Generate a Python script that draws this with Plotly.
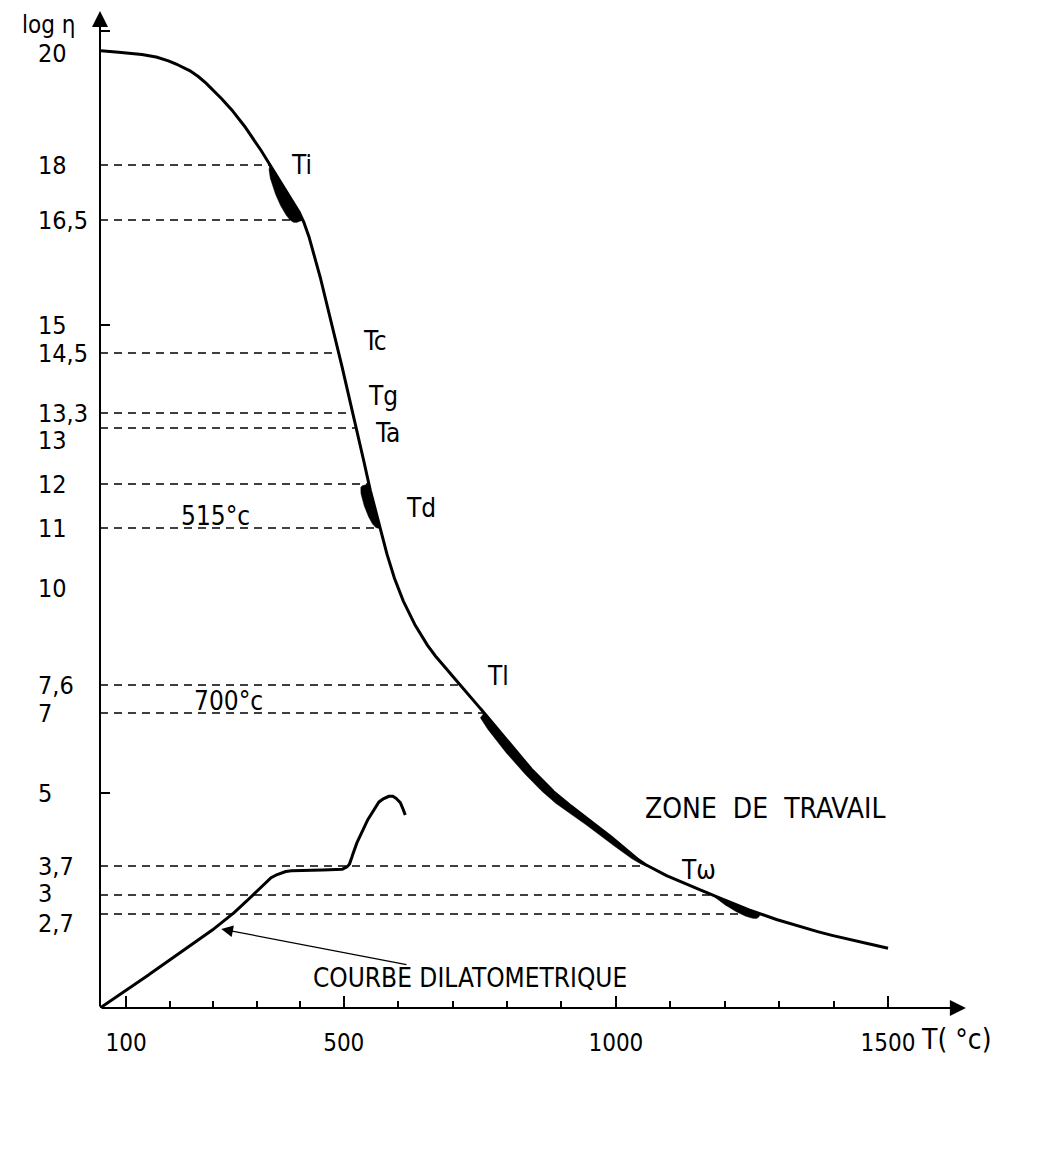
import numpy as np
import plotly.graph_objects as go

# ---------------- data ----------------
# schematic log(eta) axis : value, printed label, drawn height (axis units 0-100)
ETA_LEVELS = [20, 18, 16.5, 15, 14.5, 13.3, 13, 12, 11, 10, 7.6, 7, 5, 3.7, 3, 2.7]
ETA_LABELS = ["20", "18", "16,5", "15", "14,5", "13,3", "13", "12", "11", "10",
              "7,6", "7", "5", "3,7", "3", "2,7"]
ETA_HEIGHT = [95.5, 84.3, 78.8, 68.3, 65.5, 59.5, 58.0, 52.4, 48.0, 42.0,
              32.3, 29.5, 21.5, 14.2, 11.3, 9.4]
DASHED_ETA = [18, 16.5, 14.5, 13.3, 13, 12, 11, 7.6, 7, 3.7, 3, 2.7]
TICK_MARK_ETA = [20.4, 15, 5]

# temperature axis
X_TICK_AT = [100, 500, 1000, 1500]
X_TICK_LABELS = ["100", "500", "1000", "1500"]
X_MINOR = [180, 260, 340, 420, 600, 700, 800, 900, 1100, 1200, 1300, 1400]

# viscosity curve  (T, log eta)
VISC_T = [54, 140, 214, 278, 324, 365, 403, 425, 445, 464, 479, 491, 517, 524, 546,
          567, 587, 611, 651, 714, 758, 829, 888, 967, 1059, 1178, 1265, 1380, 1500]
VISC_ETA = [20.04, 19.96, 19.70, 19.16, 18.61, 18.0, 17.10, 16.5, 16.03, 15.46, 15.0,
            14.5, 13.3, 13.0, 12.0, 11.0, 10.33, 9.63, 8.64, 7.6, 7.0, 5.83, 5.0, 4.41,
            3.7, 3.0, 2.7, 2.40, 2.16]

# dilatometric curve (T, drawn height)
DIL_T = [52.2, 300, 339, 372, 400, 453, 490, 508, 521, 545, 569, 587, 603, 613]
DIL_H = [0, 9.6, 11.6, 13.2, 13.7, 13.8, 13.8, 14.2, 16.1, 18.9, 20.8, 21.2, 20.6, 19.3]

# thick (highlighted) ranges of the viscosity curve: (eta from, eta to)
THICK_RANGES = [(18, 16.5), (12, 11), (7, 3.7), (3, 2.7)]

CURVE_LABELS = [("Ti", 423, 84.3), ("Tc", 557, 66.7), ("Tg", 572, 61.2),
                ("Ta", 581, 57.5), ("Td", 642, 50.0), ("Tl", 783, 33.2),
                ("Tω", 1151, 13.8)]

# ---------------- geometry ----------------
X0, X1 = 52.2, 1720.4
W, H = 1059, 1150
ML, MR, MT, MB = 92, 59, 0, 150
PW, PH = W - ML - MR, H - MT - MB
SX = PW / (X1 - X0)
SY = PH / 100.0
FONT = "Liberation Sans Narrow, DejaVu Sans Condensed, Roboto Condensed, Liberation Sans, sans-serif"


def pchip(x, y, xs):
    x = np.asarray(x, float); y = np.asarray(y, float); xs = np.asarray(xs, float)
    h = np.diff(x); d = np.diff(y) / h
    n = len(x); m = np.zeros(n)
    for k in range(1, n - 1):
        if d[k - 1] * d[k] > 0:
            w1 = 2 * h[k] + h[k - 1]; w2 = h[k] + 2 * h[k - 1]
            m[k] = (w1 + w2) / (w1 / d[k - 1] + w2 / d[k])
    m[0] = d[0]; m[-1] = d[-1]
    i = np.clip(np.searchsorted(x, xs) - 1, 0, n - 2)
    t = (xs - x[i]) / h[i]
    return ((2 * t**3 - 3 * t**2 + 1) * y[i] + (t**3 - 2 * t**2 + t) * h[i] * m[i]
            + (-2 * t**3 + 3 * t**2) * y[i + 1] + (t**3 - t**2) * h[i] * m[i + 1])


def eta_to_h(e):
    lv = np.array(ETA_LEVELS[::-1], float); hv = np.array(ETA_HEIGHT[::-1], float)
    e = np.atleast_1d(np.asarray(e, float))
    out = np.interp(e, lv, hv)
    lo = e < lv[0]; hi = e > lv[-1]
    out[lo] = hv[0] + (e[lo] - lv[0]) * (hv[1] - hv[0]) / (lv[1] - lv[0])
    out[hi] = hv[-1] + (e[hi] - lv[-1]) * (hv[-1] - hv[-2]) / (lv[-1] - lv[-2])
    return out


curve_h = eta_to_h(VISC_ETA)
T_dense = np.linspace(VISC_T[0], VISC_T[-1], 5000)
H_dense = pchip(VISC_T, curve_h, T_dense)


def T_at_height(h):
    return float(np.interp(h, H_dense[::-1], T_dense[::-1]))


fig = go.Figure()

# dashed reference lines
xs, ys = [], []
for lv in DASHED_ETA:
    hh = float(eta_to_h(lv)[0])
    xs += [X0, T_at_height(hh), None]
    ys += [hh, hh, None]
fig.add_trace(go.Scatter(x=xs, y=ys, mode="lines", hoverinfo="skip",
                         line=dict(color="black", width=1.6, dash="8px,6px")))

# thick wedges (max thickness in px, profile exponents)
WEDGE_STYLE = [(13, 0.6, 0.2), (10, 0.12, 0.35), (8, 0.12, 0.5), (7, 0.8, 0.25)]
for (ea, eb), (tmax, a, b) in zip(THICK_RANGES, WEDGE_STYLE):
    ha, hb = eta_to_h([ea, eb])
    T = np.linspace(T_at_height(ha), T_at_height(hb), 240)
    Hc = pchip(VISC_T, curve_h, T)
    X, Y = T * SX, Hc * SY
    dX, dY = np.gradient(X), np.gradient(Y)
    nr = np.hypot(dX, dY)
    nx, ny = dY / nr, -dX / nr
    s = np.linspace(0, 1, 240)
    prof = s**a * (1 - s)**b
    prof = prof / prof.max() * tmax
    px = np.concatenate([X, (X + nx * prof)[::-1]]) / SX
    py = np.concatenate([Y, (Y + ny * prof)[::-1]]) / SY
    fig.add_trace(go.Scatter(x=px, y=py, mode="lines", fill="toself", fillcolor="black",
                             line=dict(color="black", width=0.5), hoverinfo="skip"))

# viscosity curve
fig.add_trace(go.Scatter(x=T_dense, y=H_dense, mode="lines", hoverinfo="skip",
                         line=dict(color="black", width=3)))

# dilatometric curve
Td_dense = np.linspace(DIL_T[0], DIL_T[-1], 1500)
fig.add_trace(go.Scatter(x=Td_dense, y=pchip(DIL_T, DIL_H, Td_dense), mode="lines",
                         hoverinfo="skip", line=dict(color="black", width=3)))

ann = []
# axes with arrows
ann.append(dict(x=X0, y=99.7, ax=X0, ay=0, xref="x", yref="y", axref="x", ayref="y",
                text="", showarrow=True, arrowhead=2, arrowsize=1.6, arrowwidth=2,
                arrowcolor="black"))
ann.append(dict(x=1643, y=0, ax=X0, ay=0, xref="x", yref="y", axref="x", ayref="y",
                text="", showarrow=True, arrowhead=2, arrowsize=1.6, arrowwidth=2,
                arrowcolor="black"))

# y labels (left aligned)
LABEL_SHIFT = {13: -12, 3: 2, 2.7: -9}
for lv, lab in zip(ETA_LEVELS, ETA_LABELS):
    ann.append(dict(x=(28 - ML) / PW, y=float(eta_to_h(lv)[0]), xref="paper", yref="y",
                    text=lab, showarrow=False, xanchor="left", yanchor="middle",
                    yshift=LABEL_SHIFT.get(lv, 0),
                    font=dict(family=FONT, size=25, color="black")))
ann.append(dict(x=(12 - ML) / PW, y=98.3, xref="paper", yref="y", text="log η",
                showarrow=False, xanchor="left", yanchor="middle",
                font=dict(family=FONT, size=24, color="black")))

for txt, tx, ty in CURVE_LABELS:
    ann.append(dict(x=tx, y=ty, xref="x", yref="y", text=txt, showarrow=False,
                    font=dict(family=FONT, size=26, color="black")))

ann.append(dict(x=265, y=float(eta_to_h(11)[0]), xref="x", yref="y", text="515°c",
                showarrow=False, yanchor="bottom", yshift=-5,
                font=dict(family=FONT, size=26, color="black")))
ann.append(dict(x=289, y=float(eta_to_h(7)[0]), xref="x", yref="y", text="700°c",
                showarrow=False, yanchor="bottom", yshift=-5,
                font=dict(family=FONT, size=26, color="black")))
ann.append(dict(x=1274, y=20.0, xref="x", yref="y", text="ZONE  DE  TRAVAIL",
                showarrow=False, font=dict(family=FONT, size=28, color="black")))
ann.append(dict(x=732, y=3.0, xref="x", yref="y", text="COURBE DILATOMETRIQUE",
                showarrow=False, font=dict(family=FONT, size=26, color="black")))
ann.append(dict(x=275, y=7.9, ax=618, ay=4.3, xref="x", yref="y", axref="x", ayref="y",
                text="", showarrow=True, arrowhead=2, arrowsize=1.8, arrowwidth=1.3,
                arrowcolor="black"))
ann.append(dict(x=(985 - ML) / PW, y=-0.05, xref="paper", yref="paper",
                text="T( °c)", showarrow=False,
                font=dict(family=FONT, size=28, color="black")))

fig.update_layout(
    width=W, height=H, margin=dict(l=ML, r=MR, t=MT, b=MB),
    paper_bgcolor="white", plot_bgcolor="white", showlegend=False,
    annotations=ann,
    xaxis=dict(range=[X0, X1], showgrid=False, zeroline=False, showline=False,
               tickmode="array", tickvals=X_TICK_AT, ticktext=X_TICK_LABELS,
               ticks="inside", ticklen=12, tickwidth=2, tickcolor="black",
               ticklabelstandoff=18,
               tickfont=dict(family=FONT, size=24, color="black"),
               minor=dict(tickmode="array", tickvals=X_MINOR, ticks="inside",
                          ticklen=7, tickwidth=1.5, tickcolor="black")),
    yaxis=dict(range=[0, 100], showgrid=False, zeroline=False, showline=False,
               tickmode="array", tickvals=list(eta_to_h(TICK_MARK_ETA)),
               ticks="inside", ticklen=10, tickwidth=2, tickcolor="black",
               showticklabels=False),
)

fig.write_html("out.html")
